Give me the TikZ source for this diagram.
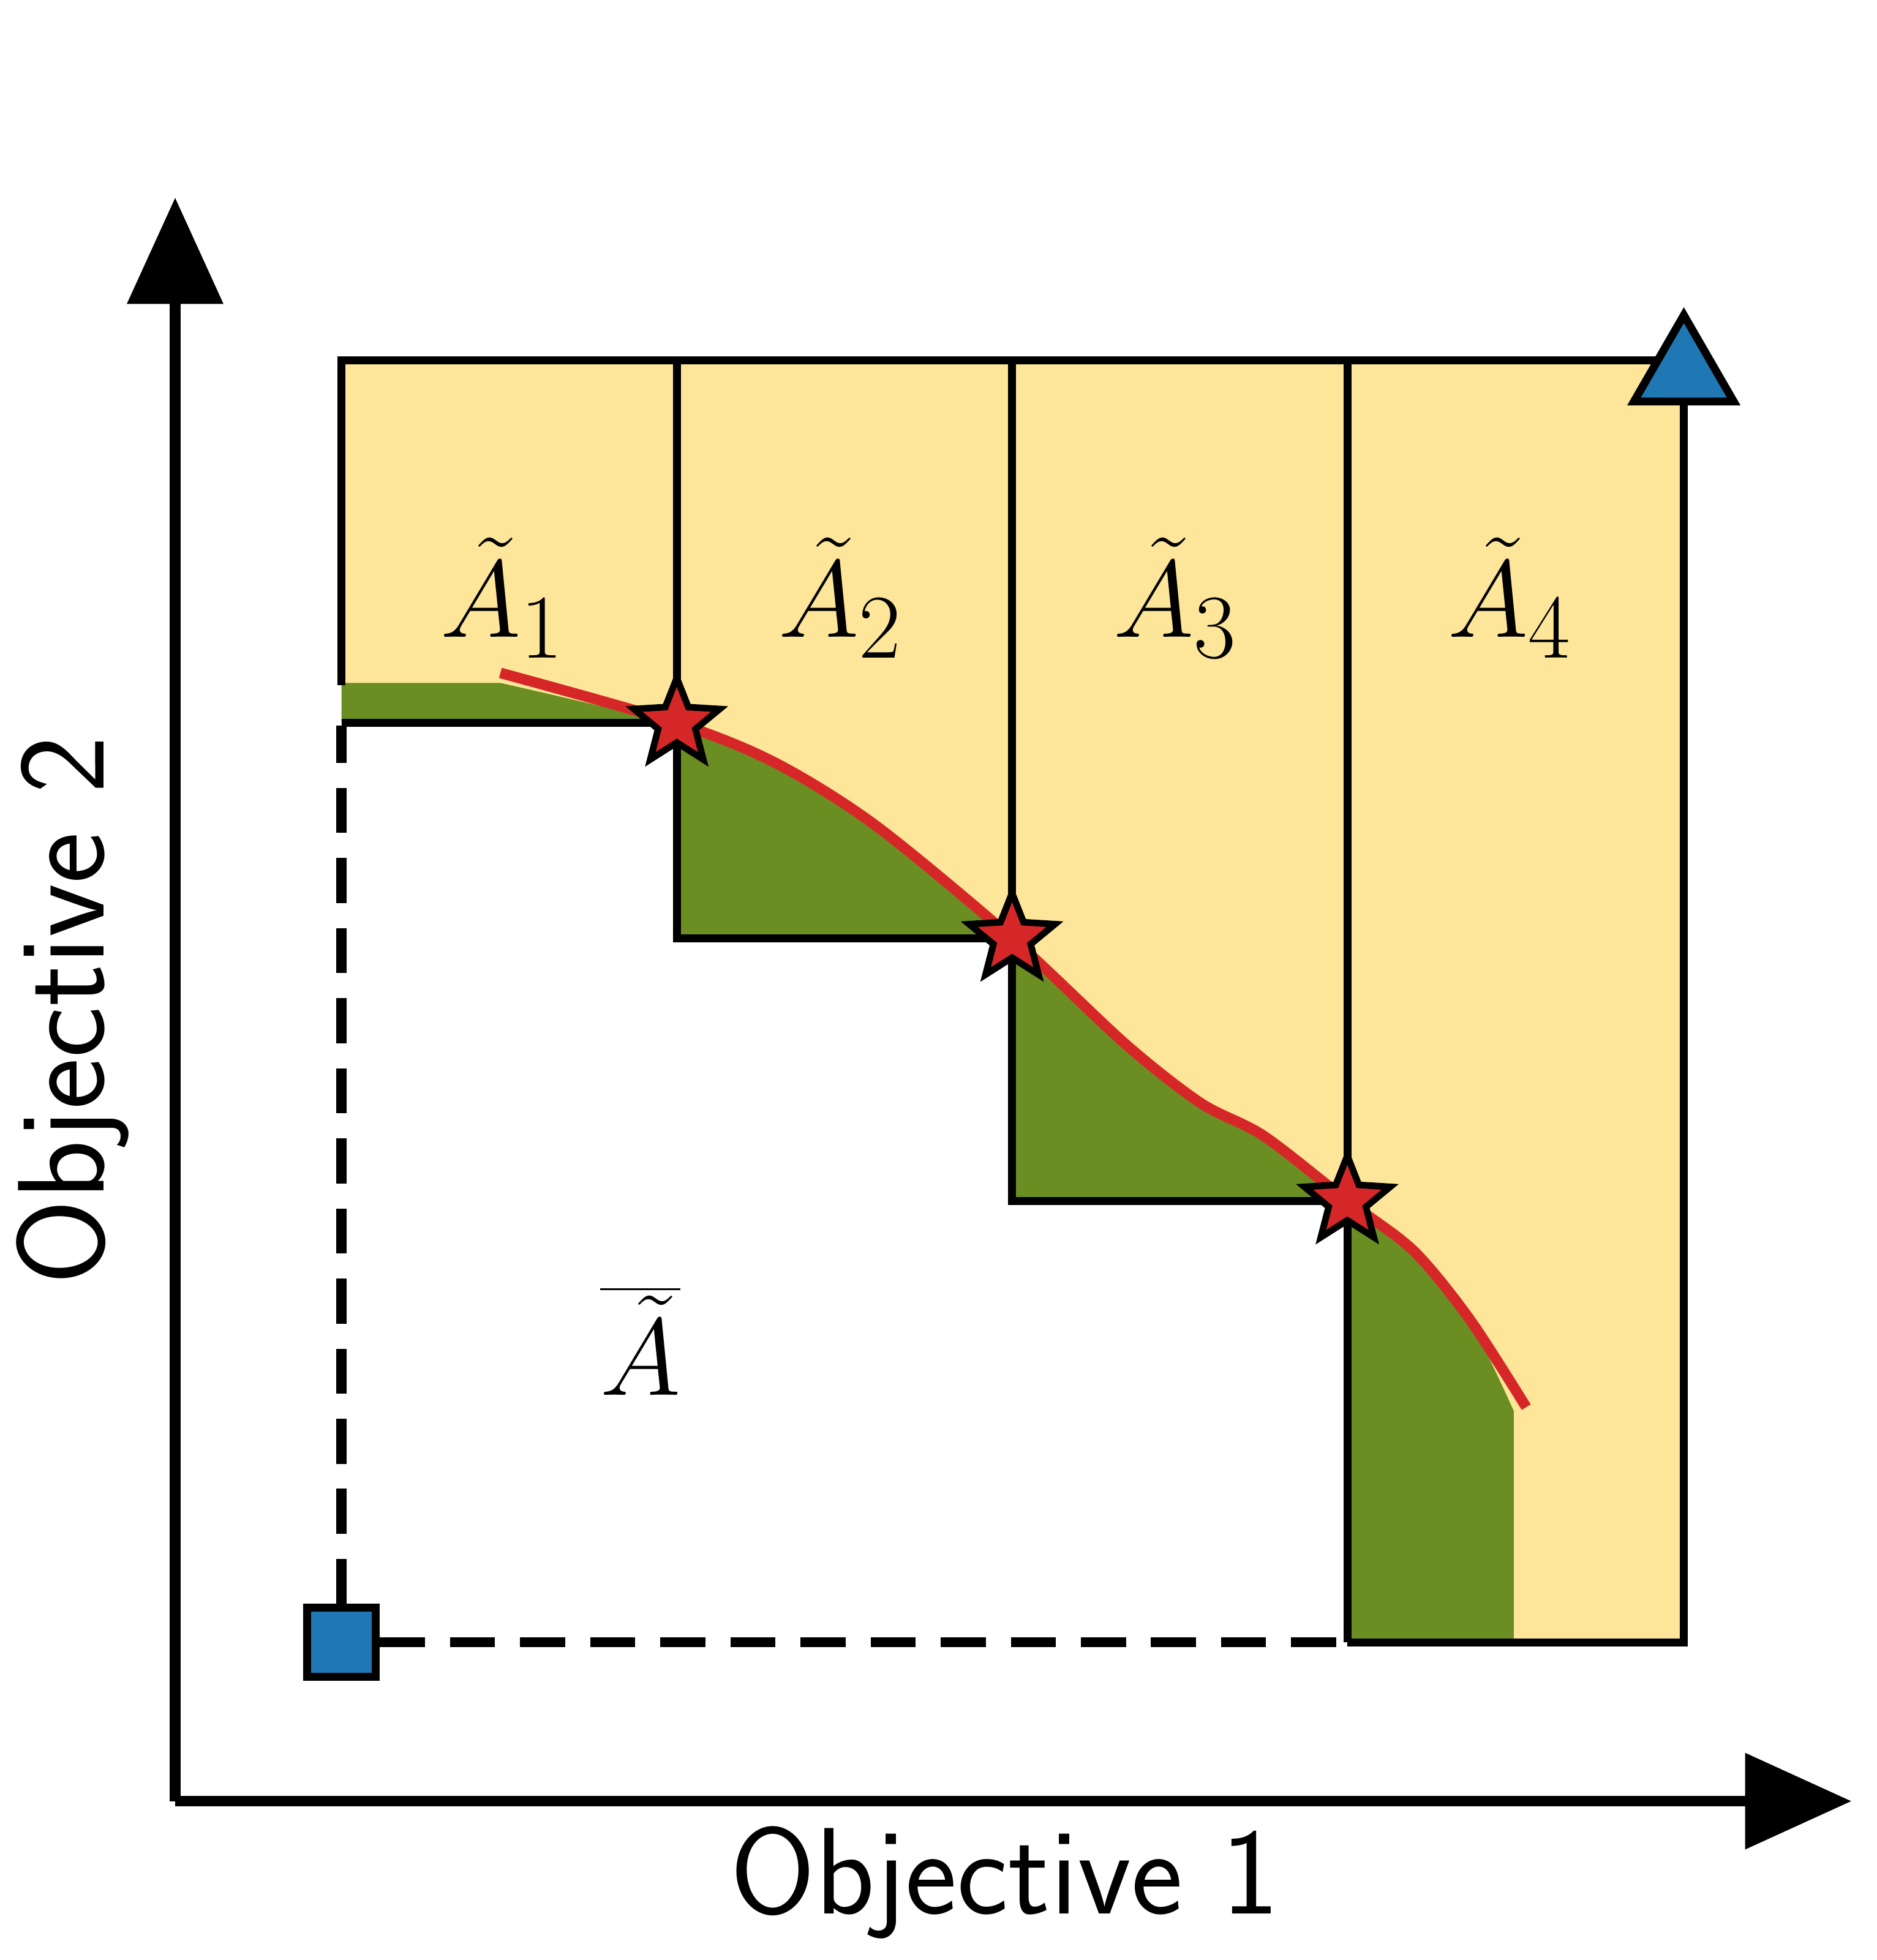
\documentclass[tikz,border=0pt]{standalone}
\usetikzlibrary{shapes.geometric,arrows.meta}
\definecolor{yel}{HTML}{FDE699}
\definecolor{grn}{HTML}{6B8E23}
\definecolor{rd}{HTML}{D62728}
\definecolor{bl}{HTML}{1F77B4}
\begin{document}
\begin{tikzpicture}[x=0.01cm,y=-0.01cm,
  thin line/.style={line width=1.8pt},
  axis/.style={line width=2.4pt,-{Triangle[length=0.85cm,width=0.75cm]}},
  dash line/.style={line width=2.3pt,dash pattern=on 0.36cm off 0.2cm},
  starmark/.style={star,star points=5,star point ratio=2.3,minimum size=0.72cm,inner sep=0pt,fill=rd,draw=black,line width=1.5pt},
  lab/.style={font=\fontsize{32}{36}\selectfont}]
\useasboundingbox (0,0) rectangle (1500,1567);
\fill[yel] (273,288) rectangle (1346,1313);
\fill[white] (273,578) -- (541,578) -- (541,750) -- (809,750) -- (809,960) -- (1077,960) -- (1077,1313) -- (273,1313) -- cycle;
\fill[grn] (273,546) -- (400,546) -- plot[smooth] coordinates {(400,546) (541,580) (620,612) (700,662) (809,752) (900,837) (960,885) (1010,912) (1077,962) (1130,1002) (1175,1057) (1210,1128)} -- (1210,1313) -- (1077,1313) -- (1077,960) -- (809,960) -- (809,750) -- (541,750) -- (541,578) -- (273,578) -- cycle;
\draw[thin line] (273,548) -- (273,288) -- (1346,288) -- (1346,1313) -- (1077,1313);
\draw[thin line] (541,288) -- (541,578) (809,288) -- (809,750) (1077,288) -- (1077,960);
\draw[thin line] (273,578) -- (541,578) -- (541,750) -- (809,750) -- (809,960) -- (1077,960) -- (1077,1313);
\draw[rd,line width=2.4pt] plot[smooth] coordinates {(400,538) (541,578) (620,610) (700,660) (809,750) (900,835) (960,882) (1010,908) (1077,960) (1130,1000) (1175,1055) (1220,1125)};
\node[draw=black,fill=bl,line width=1.8pt,minimum size=0.55cm,inner sep=0pt] (sq) at (273,1313) {};
\coordinate (dtop) at (273,580);
\coordinate (dright) at (1077,1313);
\draw[dash line] (sq.north) -- (dtop);
\draw[dash line] (sq.east) -- (dright);
\coordinate (o) at (140,1440);
\coordinate (yt) at (140,158);
\coordinate (xt) at (1480,1440);
\draw[axis] (o) -- (yt);
\draw[axis] (o) -- (xt);
\node[starmark] (s1) at (541,578) {};
\node[starmark] (s2) at (809,750) {};
\node[starmark] (s3) at (1077,960) {};
\node[regular polygon,regular polygon sides=3,fill=bl,draw=black,line width=1.8pt,minimum size=0.92cm,inner sep=0pt] (tri) at (1346,298) {};
\node[lab] (a1) at (402,478) {$\tilde{A}_1$};
\node[lab] (a2) at (672,478) {$\tilde{A}_2$};
\node[lab] (a3) at (940,478) {$\tilde{A}_3$};
\node[lab] (a4) at (1207,478) {$\tilde{A}_4$};
\node[lab] (ab) at (512,1072) {$\overline{\tilde{A}}$};
\node[font=\sffamily\fontsize{28}{32}\selectfont] (x1) at (803,1505) {Objective 1};
\node[font=\sffamily\fontsize{28}{32}\selectfont,rotate=90] (y2) at (58,808) {Objective 2};
\end{tikzpicture}
\end{document}
